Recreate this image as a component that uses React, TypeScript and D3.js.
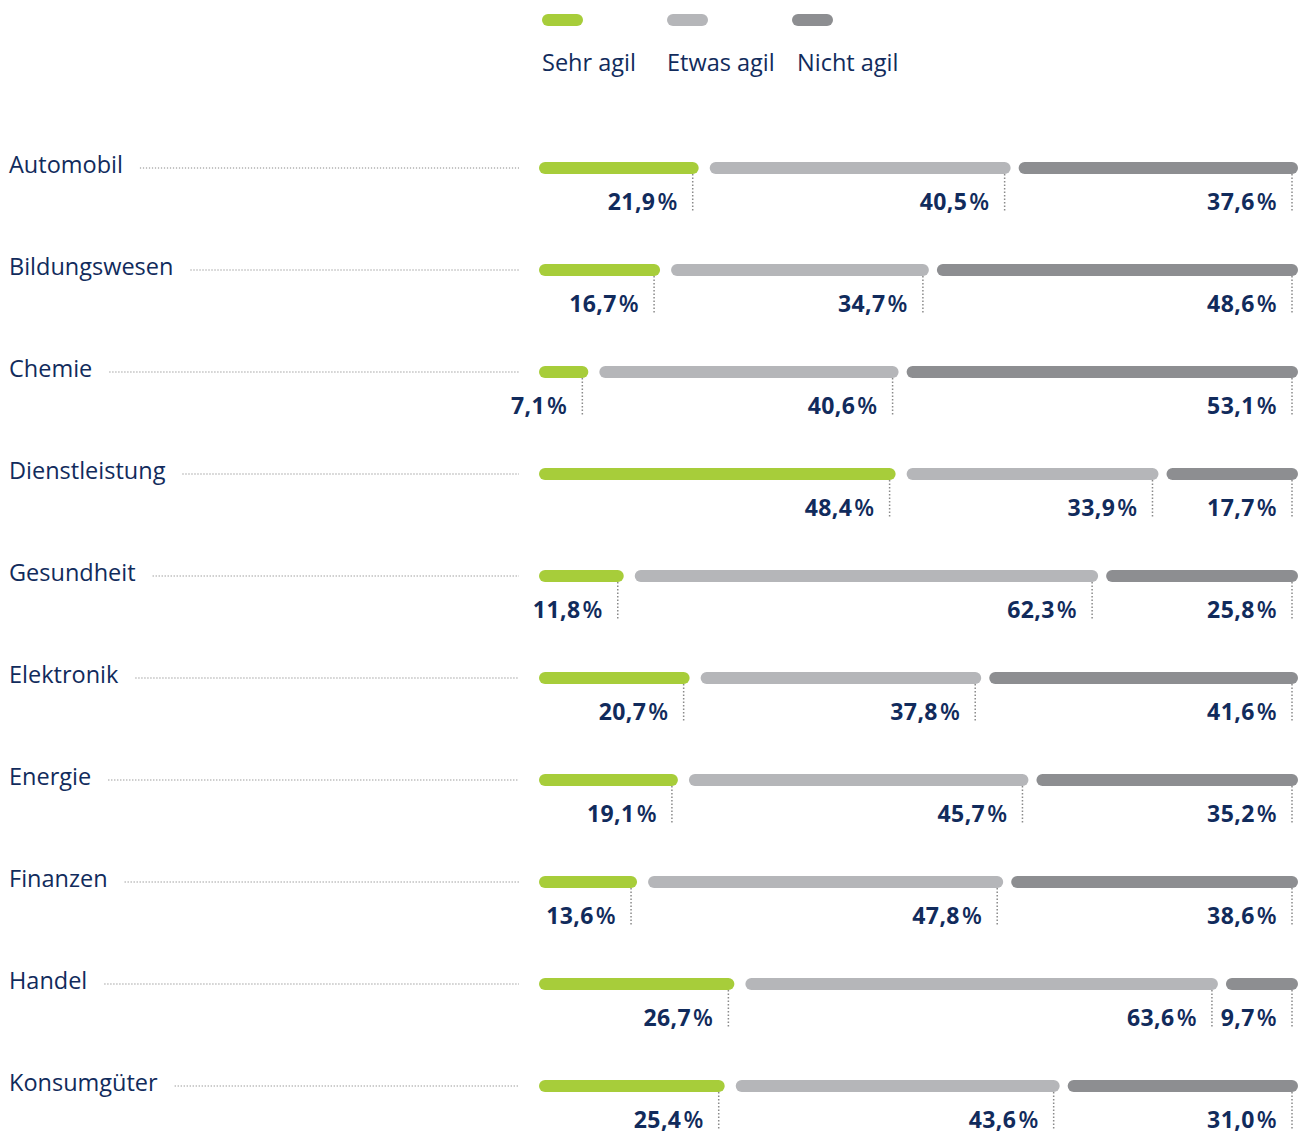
import React, { useEffect, useRef } from "react";
import * as d3 from "d3";

const categories = ["Automobil", "Bildungswesen", "Chemie", "Dienstleistung", "Gesundheit", "Elektronik", "Energie", "Finanzen", "Handel", "Konsumgüter"];
const sehrAgil = [21.9, 16.7, 7.1, 48.4, 11.8, 20.7, 19.1, 13.6, 26.7, 25.4];
const etwasAgil = [40.5, 34.7, 40.6, 33.9, 62.3, 37.8, 45.7, 47.8, 63.6, 43.6];
const nichtAgil = [37.6, 48.6, 53.1, 17.7, 25.8, 41.6, 35.2, 38.6, 9.7, 31.0];
const seriesNames = ["Sehr agil", "Etwas agil", "Nicht agil"];
const colors = ["#a7cd3a", "#b5b6b9", "#8d8e91"];

const W = 1299, H = 1133;
const barLeft = 539, barRight = 1298, gap = 8, barH = 12;
const textColor = "#112b5c";
const font = "'Open Sans', sans-serif";

export default function App() {
  const ref = useRef<SVGSVGElement>(null);
  useEffect(() => {
    const svg = d3.select(ref.current);
    svg.selectAll("*").remove();
    const series = [sehrAgil, etwasAgil, nichtAgil];
    const y = d3.scalePoint<string>().domain(categories).range([168, 1086]);

    // legend
    const legendX = [542, 667, 792];
    const lg = svg.append("g");
    seriesNames.forEach((n, i) => {
      lg.append("rect").attr("x", legendX[i]).attr("y", 14).attr("width", 41).attr("height", 12)
        .attr("rx", 6).attr("fill", colors[i]);
      lg.append("text").attr("x", legendX[i] + (i === 2 ? 5 : 0)).attr("y", 71).text(n)
        .attr("font-family", font).attr("font-size", 23.5).attr("fill", textColor);
    });

    categories.forEach((c, ri) => {
      const cy = y(c)!;
      const vals = series.map(s => s[ri]);
      const total = d3.sum(vals);
      const x = d3.scaleLinear().domain([0, total]).range([0, barRight - barLeft - gap * 2]);
      const g = svg.append("g");
      const lbl = g.append("text").attr("x", 9).attr("y", cy + 5).text(c)
        .attr("font-family", font).attr("font-size", 23.5).attr("fill", textColor);
      const lw = (lbl.node() as SVGTextElement).getComputedTextLength();
      g.append("line").attr("x1", 9 + lw + 17).attr("x2", 519).attr("y1", cy).attr("y2", cy)
        .attr("stroke", "#8a8a8a").attr("stroke-width", 1.2).attr("stroke-dasharray", "1.2,1.8");
      let cum = 0;
      vals.forEach((v, si) => {
        const x0 = barLeft + x(cum) + si * gap;
        const w = x(v) - (si === 0 ? 3 : 0);
        cum += v;
        g.append("rect").attr("x", x0).attr("y", cy - barH / 2).attr("width", w).attr("height", barH)
          .attr("rx", barH / 2).attr("fill", colors[si]);
        const lx = x0 + w - 6;
        g.append("line").attr("x1", lx).attr("x2", lx).attr("y1", cy + barH / 2).attr("y2", cy + 44)
          .attr("stroke", "#8a8a8a").attr("stroke-width", 1.5).attr("stroke-dasharray", "1.5,2");
        const num = d3.format(".1f")(v).replace(".", ",");
        const t = g.append("text").attr("x", lx - 15).attr("y", cy + 42).attr("text-anchor", "end")
          .attr("font-family", font).attr("font-size", 23).attr("font-weight", 700)
          .attr("letter-spacing", 0.4).attr("fill", textColor);
        t.append("tspan").text(num);
        t.append("tspan").attr("dx", 2).attr("font-weight", 600).text("%");
      });
    });
  }, []);
  return (
    <svg ref={ref} width={W} height={H} style={{ position: "absolute", left: 0, top: 0, background: "#fff" }} />
  );
}
